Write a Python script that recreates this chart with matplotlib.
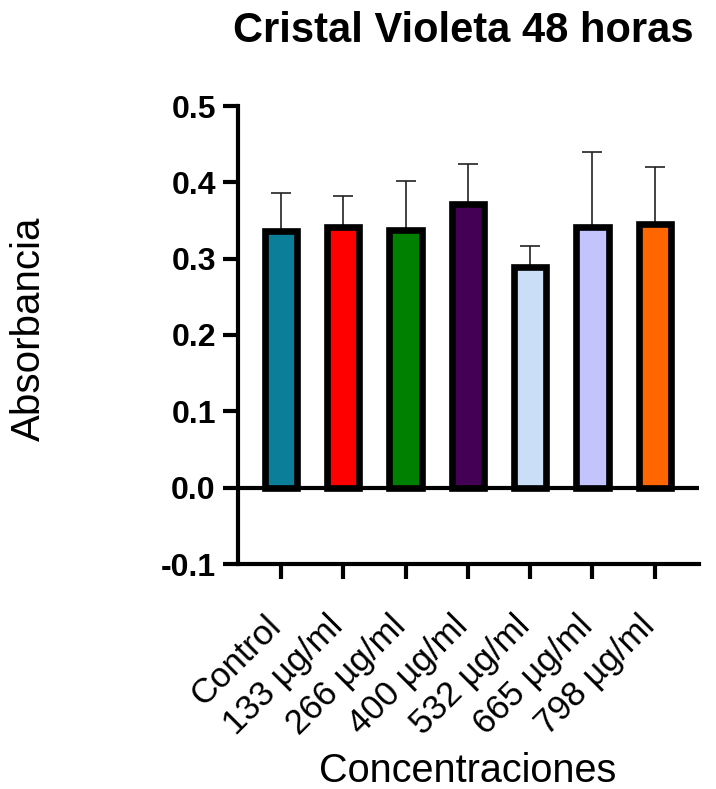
import numpy as np
import matplotlib
matplotlib.use("Agg")
import matplotlib.pyplot as plt
import matplotlib.transforms as mtransforms

plt.rcParams['font.family'] = ['Liberation Sans', 'DejaVu Sans']

# data
labels = ['Control', '133 µg/ml', '266 µg/ml', '400 µg/ml',
          '532 µg/ml', '665 µg/ml', '798 µg/ml']
means = [0.336, 0.341, 0.338, 0.372, 0.289, 0.341, 0.345]
errors = [0.050, 0.041, 0.064, 0.052, 0.027, 0.099, 0.075]
colors = ['#0b7f99', '#ff0000', '#008000', '#440055',
          '#cadff7', '#c3c3fd', '#ff6600']
yticks = [-0.1, 0.0, 0.1, 0.2, 0.3, 0.4, 0.5]

fig = plt.figure(figsize=(7.16, 7.89), dpi=100)
W, H = 716, 789
ax = fig.add_axes([238 / W, (H - 564) / H, (699 - 238) / W, (564 - 106) / H])

x = np.arange(len(labels))
ax.errorbar(x, means, yerr=[np.zeros(len(errors)), errors], fmt='none',
            ecolor='#222222', elinewidth=1.2, capsize=7.5, capthick=1.2, zorder=1)
ax.bar(x, means, width=0.52, color=colors, edgecolor='black', linewidth=4.8, zorder=2)
ax.axhline(0, color='black', linewidth=3, zorder=3)

ax.set_xlim(-0.69, 6.71)
ax.set_ylim(-0.1, 0.5)
ax.set_yticks(yticks)
ax.set_yticklabels([f'{v:.1f}' for v in yticks], fontsize=23, fontweight='bold')
ax.set_xticks(x)
ax.set_xticklabels(labels, rotation=45, ha='right', va='top', rotation_mode='anchor', fontsize=25)

for side in ['top', 'right']:
    ax.spines[side].set_visible(False)
for side in ['left', 'bottom']:
    ax.spines[side].set_linewidth(3)
ax.tick_params(axis='both', width=3, length=11)
ax.tick_params(axis='y', pad=5)
ax.tick_params(axis='x', pad=20)

# nudge the slanted labels left so their ends sit under the ticks
shift = mtransforms.ScaledTranslation(-0.17, -0.02, fig.dpi_scale_trans)
for lbl in ax.get_xticklabels():
    lbl.set_transform(lbl.get_transform() + shift)

fig.text(463 / W, 1 - 31 / H, 'Cristal Violeta 48 horas', ha='center', va='center',
         fontsize=30, fontweight='bold')
fig.text(29 / W, 1 - 329 / H, 'Absorbancia', ha='center', va='center',
         rotation=90, fontsize=29)
fig.text(468 / W, 1 - 782 / H, 'Concentraciones', ha='center', va='baseline', fontsize=28.5)

fig.savefig('out.png', dpi=100)
